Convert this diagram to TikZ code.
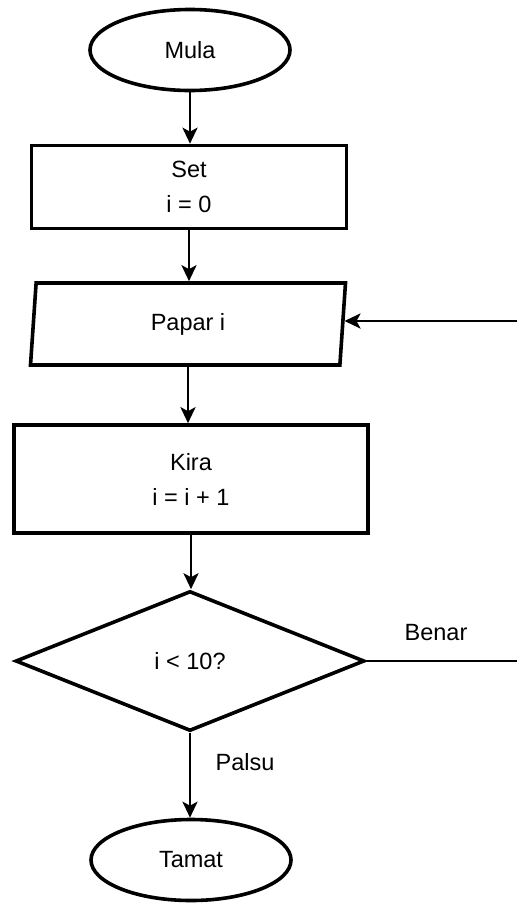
\documentclass[tikz,border=0pt]{standalone}
\usepackage{fontspec}
\setmainfont{Liberation Sans}
\usepackage{tikz}
\usetikzlibrary{shapes.geometric,arrows.meta}
\tikzstyle{term}=[shape=ellipse,draw,line width=3.6pt,minimum width=200pt,minimum height=81pt,inner sep=0pt]
\tikzstyle{proc}=[shape=rectangle,draw,line width=3.6pt,align=center,inner sep=0pt]
\tikzstyle{io}=[shape=trapezium,draw,line width=3.6pt,trapezium left angle=75.6,trapezium right angle=104.4,trapezium stretches body,minimum width=315pt,minimum height=82pt,inner sep=0pt]
\tikzstyle{dec}=[shape=diamond,draw,line width=3.6pt,minimum width=349pt,minimum height=140pt,inner sep=0pt]
\tikzstyle{link}=[line width=2.8pt,-{Stealth[length=16pt,width=15pt,inset=4pt]}]
\tikzstyle{plain}=[line width=2.8pt]

\begin{document}
\begin{tikzpicture}[x=1pt,y=-1pt,font=\fontsize{23.5}{35}\selectfont]
            \useasboundingbox (0,0) rectangle (517,905);
            \node[term] (mula) at (190, 50) {Mula}
            ;
            \node[proc, minimum width=315pt, minimum height=83pt] (set) at (189, 187) {Set\\i = 0}
            ;
            \node[io] (papar) at (188, 324) {Papar i}
            ;
            \node[proc, minimum width=354pt, minimum height=108pt] (kira) at (191, 479) {Kira\\i = i + 1}
            ;
            \node[dec] (uji) at (190, 661) {i < 10?}
            ;
            \node[term] (tamat) at (191, 860) {Tamat}
            ;
            \coordinate (masuk) at (517, 321);
            \coordinate (keluar) at (517, 661);
            \node (benar) at (436, 633) {Benar};
            \node (palsu) at (245, 762) {Palsu};

            \draw[link] (mula.south) -- (mula.south |- set.north);
            \draw[link] (set.south) -- (set.south |- papar.north);
            \draw[link] (papar.south) -- (papar.south |- kira.north);
            \draw[link] (kira.south) -- (kira.south |- uji.north);
            \draw[link] (uji.south) -- (uji.south |- tamat.north);
            \draw[plain] (uji.east) -- (keluar);
            \draw[link] (masuk) -- (masuk -| papar.east);
        \end{tikzpicture}
\end{document}
